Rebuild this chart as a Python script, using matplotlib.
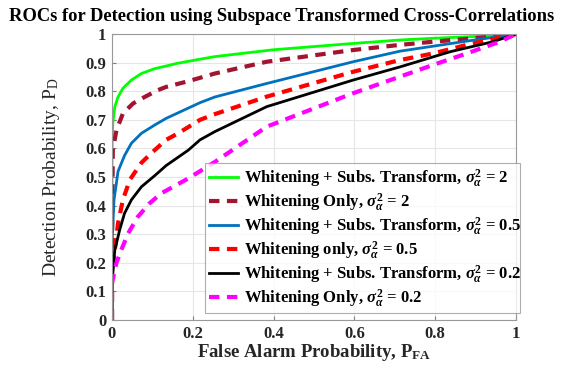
import matplotlib
matplotlib.use("Agg")
import matplotlib.pyplot as plt
import numpy as np

plt.rcParams['font.family'] = 'Liberation Serif'
plt.rcParams['font.weight'] = 'bold'
plt.rcParams['axes.labelweight'] = 'bold'
plt.rcParams['axes.titleweight'] = 'bold'
plt.rcParams['mathtext.fontset'] = 'custom'
plt.rcParams['mathtext.rm'] = 'Liberation Serif:bold'
plt.rcParams['mathtext.bf'] = 'Liberation Serif:bold'
plt.rcParams['mathtext.it'] = 'Liberation Serif:bold:italic'

# curvas (Pfa, Pd)
pfa_verde = [0, 0, 0.002, 0.007, 0.015, 0.027, 0.048, 0.073, 0.106, 0.134, 0.16, 0.218, 0.255,
             0.4, 0.597, 0.713, 0.795, 0.96, 1.0]
pd_verde = [0, 0.594, 0.69, 0.746, 0.78, 0.81, 0.839, 0.862, 0.879, 0.888, 0.897, 0.912, 0.921,
            0.945, 0.967, 0.979, 0.985, 0.995, 1.0]

pfa_marrom = [0, 0, 0.002, 0.011, 0.027, 0.052, 0.081, 0.114, 0.134, 0.189, 0.255, 0.383,
              0.597, 0.713, 0.795, 0.936, 1.0]
pd_marrom = [0, 0.25, 0.594, 0.664, 0.722, 0.757, 0.78, 0.804, 0.815, 0.835, 0.862, 0.903,
             0.944, 0.962, 0.973, 0.99, 1.0]

pfa_azul = [0, 0, 0.005, 0.015, 0.031, 0.048, 0.073, 0.106, 0.134, 0.218, 0.255, 0.383,
            0.597, 0.713, 0.878, 1.0]
pd_azul = [0, 0.268, 0.42, 0.52, 0.575, 0.618, 0.653, 0.682, 0.705, 0.76, 0.78, 0.827,
           0.903, 0.94, 0.975, 1.0]

pfa_vermelho = [0, 0, 0.007, 0.015, 0.027, 0.044, 0.073, 0.097, 0.134, 0.164, 0.218, 0.255,
                0.383, 0.597, 0.713, 0.795, 0.878, 1.0]
pd_vermelho = [0, 0.175, 0.245, 0.339, 0.42, 0.49, 0.55, 0.583, 0.63, 0.653, 0.7, 0.72,
               0.781, 0.868, 0.909, 0.932, 0.962, 1.0]

pfa_preto = [0, 0, 0.007, 0.019, 0.031, 0.048, 0.073, 0.106, 0.134, 0.189, 0.218, 0.255,
             0.383, 0.597, 0.713, 0.837, 0.943, 1.0]
pd_preto = [0, 0.128, 0.245, 0.315, 0.373, 0.42, 0.466, 0.505, 0.54, 0.594, 0.63, 0.659,
            0.746, 0.839, 0.885, 0.938, 0.973, 1.0]

pfa_magenta = [0, 0, 0.011, 0.023, 0.04, 0.064, 0.093, 0.122, 0.189, 0.255, 0.383, 0.597,
               0.713, 0.795, 0.878, 0.96, 1.0]
pd_magenta = [0, 0.13, 0.2, 0.245, 0.303, 0.361, 0.408, 0.443, 0.495, 0.553, 0.676, 0.793,
              0.851, 0.892, 0.932, 0.973, 1.0]

rotulos = [
    r'Whitening + Subs. Transform, $\sigma_\alpha^2$ = 2',
    r'Whitening Only, $\sigma_\alpha^2$ = 2',
    r'Whitening + Subs. Transform, $\sigma_\alpha^2$ = 0.5',
    r'Whitening only, $\sigma_\alpha^2$ = 0.5',
    r'Whitening + Subs. Transform, $\sigma_\alpha^2$ = 0.2',
    r'Whitening Only, $\sigma_\alpha^2$ = 0.2',
]

fig = plt.figure(figsize=(5.64, 3.74), dpi=100)
ax = fig.add_axes([112 / 564, 54 / 374, 404 / 564, 286 / 374])

tracejado = (0, (2.5, 1.8))
ax.plot(pfa_verde, pd_verde, color='#00ff00', lw=2, label=rotulos[0])
ax.plot(pfa_marrom, pd_marrom, color='#a2142f', lw=3, ls=tracejado, label=rotulos[1])
ax.plot(pfa_azul, pd_azul, color='#0072bd', lw=2, label=rotulos[2])
ax.plot(pfa_vermelho, pd_vermelho, color='#ff0000', lw=3, ls=tracejado, label=rotulos[3])
ax.plot(pfa_preto, pd_preto, color='black', lw=2, label=rotulos[4])
ax.plot(pfa_magenta, pd_magenta, color='#ff00ff', lw=3, ls=tracejado, label=rotulos[5])

ax.set_xlim(0, 1)
ax.set_ylim(0, 1)
ax.set_xticks(np.arange(0, 1.01, 0.2))
ax.set_xticklabels(['0', '0.2', '0.4', '0.6', '0.8', '1'])
ax.set_yticks(np.arange(0, 1.01, 0.1))
ax.set_yticklabels(['0', '0.1', '0.2', '0.3', '0.4', '0.5', '0.6', '0.7', '0.8', '0.9', '1'])
ax.tick_params(direction='in', length=3, labelsize=12, color='#808080', pad=4)
for lab in ax.get_xticklabels() + ax.get_yticklabels():
    lab.set_fontweight('bold')
    lab.set_color('#262626')
ax.grid(True, color='#e6e6e6', lw=0.8)
for s in ax.spines.values():
    s.set_color('#999999')

fig.suptitle('ROCs for Detection using Subspace Transformed Cross-Correlations',
             x=0.5, y=0.978, fontsize=13.3, fontweight='bold')
ax.set_xlabel(r'False Alarm Probability, P$_\mathrm{FA}$', fontsize=13.5, labelpad=0,
              color='#262626')
ax.set_ylabel(r'Detection Probability, P$_\mathregular{D}$', fontsize=14, labelpad=17,
              color='#262626', fontweight='normal')

leg = ax.legend(loc='lower left', bbox_to_anchor=(93 / 404, 0.025, 315 / 404, 150 / 286),
                mode='expand', fontsize=12, frameon=True, fancybox=False,
                handlelength=1.7, handletextpad=0.4, borderpad=0.25,
                borderaxespad=0, labelspacing=0.12)
leg.get_frame().set_edgecolor('#999999')
leg.get_frame().set_linewidth(0.8)

fig.savefig('out.png', dpi=100)
